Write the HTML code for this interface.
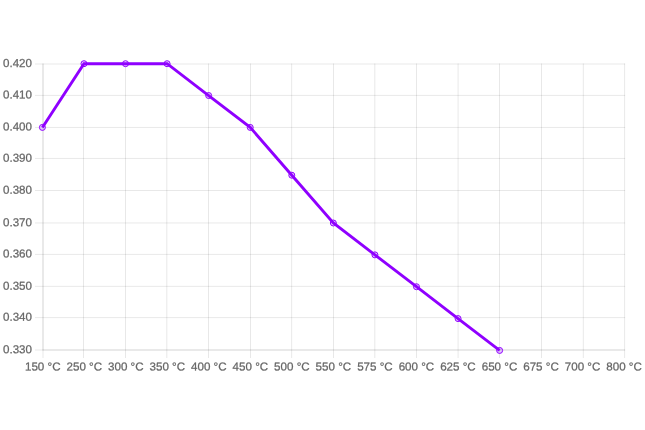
<!DOCTYPE html>
<html><head><meta charset="utf-8"><title>Chart</title>
<style>html,body{margin:0;padding:0;background:#fff;overflow:hidden}svg{display:block}</style></head>
<body>
<svg width="645" height="430" viewBox="0 0 645 430">
<defs><filter id="soft" x="-5%" y="-5%" width="110%" height="110%"><feGaussianBlur stdDeviation="0.45"/></filter></defs>
<g fill="rgba(0,0,0,0.09)">
<rect x="42.50" y="63.5" width="1" height="294.5"/>
<rect x="83.00" y="63.5" width="1" height="294.5"/>
<rect x="125.00" y="63.5" width="1" height="294.5"/>
<rect x="166.30" y="63.5" width="1" height="294.5"/>
<rect x="208.00" y="63.5" width="1" height="294.5"/>
<rect x="250.00" y="63.5" width="1" height="294.5"/>
<rect x="291.15" y="63.5" width="1" height="294.5"/>
<rect x="333.00" y="63.5" width="1" height="294.5"/>
<rect x="374.30" y="63.5" width="1" height="294.5"/>
<rect x="416.00" y="63.5" width="1" height="294.5"/>
<rect x="457.60" y="63.5" width="1" height="294.5"/>
<rect x="499.00" y="63.5" width="1" height="294.5"/>
<rect x="541.00" y="63.5" width="1" height="294.5"/>
<rect x="582.80" y="63.5" width="1" height="294.5"/>
<rect x="624.10" y="63.5" width="1" height="294.5"/>
<rect x="35" y="63.50" width="590.10" height="1"/>
<rect x="35" y="94.90" width="590.10" height="1"/>
<rect x="35" y="126.95" width="590.10" height="1"/>
<rect x="35" y="157.95" width="590.10" height="1"/>
<rect x="35" y="190.00" width="590.10" height="1"/>
<rect x="35" y="222.45" width="590.10" height="1"/>
<rect x="35" y="253.90" width="590.10" height="1"/>
<rect x="35" y="285.85" width="590.10" height="1"/>
<rect x="35" y="317.10" width="590.10" height="1"/>
<rect x="35" y="349.50" width="590.10" height="1"/>
<rect x="42.5" y="63.5" width="1" height="287.0"/>
<rect x="42.5" y="349.5" width="582.60" height="1"/>
</g>
<polyline points="42.40,127.42 83.97,63.70 125.53,63.70 167.09,63.70 208.66,95.56 250.22,127.42 291.79,175.21 333.35,223.00 374.92,254.86 416.48,286.72 458.05,318.58 499.61,350.44" fill="none" stroke="#8f00ff" stroke-width="2.9" stroke-linejoin="miter" stroke-linecap="butt" filter="url(#soft)"/>
<g fill="rgba(143,0,255,0.2)" stroke="#8f00ff" stroke-width="1" filter="url(#soft)">
<circle cx="42.40" cy="127.42" r="3"/>
<circle cx="83.97" cy="63.70" r="3"/>
<circle cx="125.53" cy="63.70" r="3"/>
<circle cx="167.09" cy="63.70" r="3"/>
<circle cx="208.66" cy="95.56" r="3"/>
<circle cx="250.22" cy="127.42" r="3"/>
<circle cx="291.79" cy="175.21" r="3"/>
<circle cx="333.35" cy="223.00" r="3"/>
<circle cx="374.92" cy="254.86" r="3"/>
<circle cx="416.48" cy="286.72" r="3"/>
<circle cx="458.05" cy="318.58" r="3"/>
<circle cx="499.61" cy="350.44" r="3"/>
</g>
<g font-family="'Liberation Sans', Arial, sans-serif" font-size="11.6" fill="#666" text-rendering="geometricPrecision" stroke="#666" stroke-width="0.25">
<text x="32" y="67.12" text-anchor="end" transform="rotate(0.03 32 67.12)">0.420</text>
<text x="32" y="98.54" text-anchor="end" transform="rotate(0.03 32 98.54)">0.410</text>
<text x="32" y="130.44" text-anchor="end" transform="rotate(0.03 32 130.44)">0.400</text>
<text x="32" y="161.66" text-anchor="end" transform="rotate(0.03 32 161.66)">0.390</text>
<text x="32" y="193.85" text-anchor="end" transform="rotate(0.03 32 193.85)">0.380</text>
<text x="32" y="226.28" text-anchor="end" transform="rotate(0.03 32 226.28)">0.370</text>
<text x="32" y="257.58" text-anchor="end" transform="rotate(0.03 32 257.58)">0.360</text>
<text x="32" y="289.66" text-anchor="end" transform="rotate(0.03 32 289.66)">0.350</text>
<text x="32" y="320.73" text-anchor="end" transform="rotate(0.03 32 320.73)">0.340</text>
<text x="32" y="353.22" text-anchor="end" transform="rotate(0.03 32 353.22)">0.330</text>
<text x="42.77" y="370.4" text-anchor="middle" transform="rotate(0.03 42.77 370.4)">150 °C</text>
<text x="84.29" y="370.4" text-anchor="middle" transform="rotate(0.03 84.29 370.4)">250 °C</text>
<text x="125.81" y="370.4" text-anchor="middle" transform="rotate(0.03 125.81 370.4)">300 °C</text>
<text x="167.33" y="370.4" text-anchor="middle" transform="rotate(0.03 167.33 370.4)">350 °C</text>
<text x="208.85" y="370.4" text-anchor="middle" transform="rotate(0.03 208.85 370.4)">400 °C</text>
<text x="250.37" y="370.4" text-anchor="middle" transform="rotate(0.03 250.37 370.4)">450 °C</text>
<text x="291.89" y="370.4" text-anchor="middle" transform="rotate(0.03 291.89 370.4)">500 °C</text>
<text x="333.41" y="370.4" text-anchor="middle" transform="rotate(0.03 333.41 370.4)">550 °C</text>
<text x="374.93" y="370.4" text-anchor="middle" transform="rotate(0.03 374.93 370.4)">575 °C</text>
<text x="416.45" y="370.4" text-anchor="middle" transform="rotate(0.03 416.45 370.4)">600 °C</text>
<text x="457.97" y="370.4" text-anchor="middle" transform="rotate(0.03 457.97 370.4)">625 °C</text>
<text x="499.49" y="370.4" text-anchor="middle" transform="rotate(0.03 499.49 370.4)">650 °C</text>
<text x="541.01" y="370.4" text-anchor="middle" transform="rotate(0.03 541.01 370.4)">675 °C</text>
<text x="582.53" y="370.4" text-anchor="middle" transform="rotate(0.03 582.53 370.4)">700 °C</text>
<text x="624.05" y="370.4" text-anchor="middle" transform="rotate(0.03 624.05 370.4)">800 °C</text>
</g>
</svg>
</body></html>
